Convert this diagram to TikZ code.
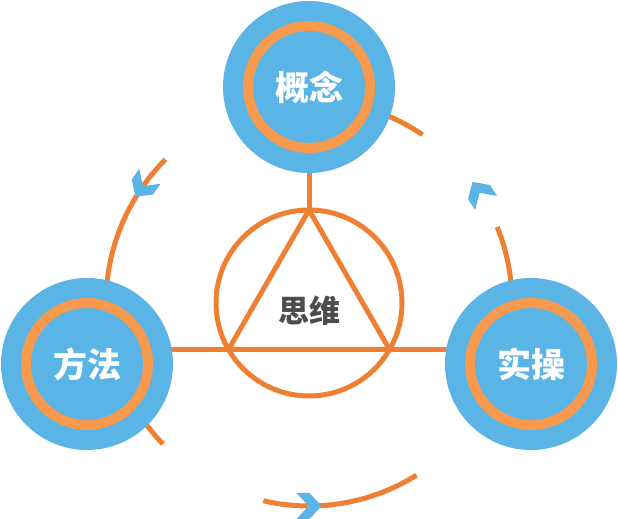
\documentclass[tikz,border=0pt]{standalone}
\usepackage{fontspec}
\newfontfamily\cjk{Noto Sans CJK SC}
\usetikzlibrary{positioning,backgrounds}
\definecolor{hubblue}{HTML}{5AB4E6}
\definecolor{ringorange}{HTML}{F79A4D}
\definecolor{lineorange}{HTML}{EE7F33}
\definecolor{textgray}{HTML}{4D4D4D}

\begin{document}
\begin{tikzpicture}[x=1pt,y=1pt,node distance=216pt,on grid,
  hub/.style={circle,fill=hubblue,minimum size=172pt,inner sep=0pt,outer sep=0pt,text=white,
    font=\cjk\bfseries\fontsize{34}{40}\selectfont,
    path picture={\draw[ringorange,line width=10pt] (path picture bounding box.center) circle (61pt);}},
  core/.style={circle,draw=lineorange,line width=5pt,minimum size=186pt,inner sep=0pt,outer sep=0pt},
  link/.style={draw=lineorange,line width=5pt},
  word/.style={text=textgray,font=\cjk\bfseries\fontsize{31}{36}\selectfont}]
\useasboundingbox (0,0) rectangle (618,519);
\tikzset{chev/.pic={\fill[hubblue] (12.5,0) -- (0.5,13) -- (-12.5,13) -- (-0.5,0) -- (-12.5,-13) -- (0.5,-13) -- cycle;}}
  \node[hub]  (concept)  at (309,432)                          {概念};
  \node[hub]  (method)   [below left=277pt and 222pt of concept]  {方法};
  \node[hub]  (practice) [below right=277pt and 222pt of concept] {实操};
  \node[core] (thinking) [below=of concept]                    {};
  \node[word] (idea)     [below=8pt of thinking]               {思维};
\draw[link,line join=round] (thinking.north) -- (thinking.210) -- (thinking.330) -- cycle;
\begin{scope}[on background layer]
  \draw[link] (method |- thinking.210) -- (practice |- thinking.330);
  \draw[link] (concept) -- (thinking.north);
  % cycle arcs round the centre
  \draw[link] (thinking.center) ++(135:203pt) arc[start angle=135,end angle=180,radius=203pt];
  \draw[link] (thinking.center) ++(-160:203pt) arc[start angle=-160,end angle=-136,radius=203pt];
  \draw[link] (thinking.center) ++(-103:203pt) arc[start angle=-103,end angle=-58,radius=203pt];
  \draw[link] (thinking.center) ++(0:203pt) arc[start angle=0,end angle=22,radius=203pt];
  \draw[link] (thinking.center) ++(56:203pt) arc[start angle=56,end angle=90,radius=203pt];
\end{scope}
\path (thinking.center) ++(145:203pt) pic[rotate=235] {chev};
\path (thinking.center) ++(33:203pt)  pic[rotate=123] {chev};
\path (thinking.center) ++(-90:203pt) pic[rotate=0]   {chev};
\end{tikzpicture}
\end{document}
